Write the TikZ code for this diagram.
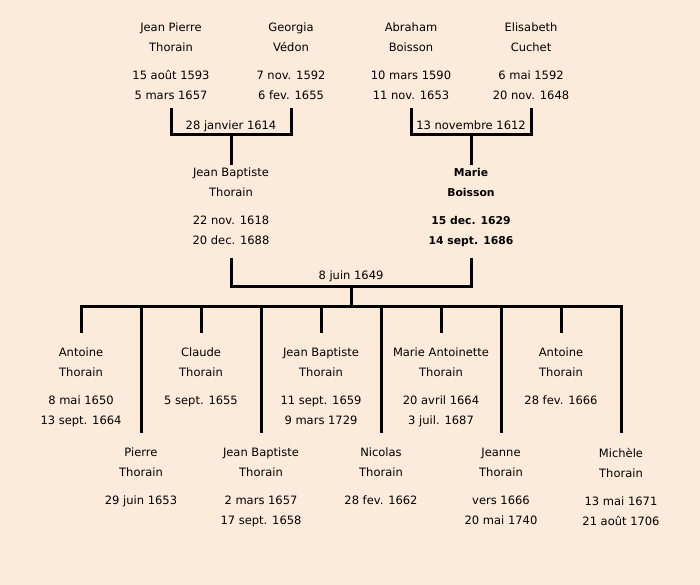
\documentclass[tikz,border=0pt]{standalone}
\usepackage{fontspec}
\setmainfont{DejaVu Sans}
\usetikzlibrary{calc,positioning}
\definecolor{parchment}{RGB}{252,235,218}
\tikzset{
  person/.style={align=center, inner sep=0pt, anchor=north, font=\fontsize{11.5}{20}\selectfont},
  wedding/.style={inner sep=0pt, anchor=base, font=\fontsize{11.5}{14}\selectfont},
  tie/.style={line width=3pt}}

\begin{document}
\begin{tikzpicture}[x=1pt,y=-1pt]
\fill[parchment] (0,0) rectangle (700,585);
\node[person] (jp) at (171,23) {Jean Pierre\\Thorain\\[8pt]15 août 1593\\5 mars 1657};
\node[person] (gv) at (291,23) {Georgia\\Védon\\[8pt]7 nov. 1592\\6 fev. 1655};
\node[person] (ab) at (411,23) {Abraham\\Boisson\\[8pt]10 mars 1590\\11 nov. 1653};
\node[person] (ec) at (531,23) {Elisabeth\\Cuchet\\[8pt]6 mai 1592\\20 nov. 1648};
\node[person] (jb) at (231,168) {Jean Baptiste\\Thorain\\[8pt]22 nov. 1618\\20 dec. 1688};
\node[person, font=\fontsize{10.8}{20}\selectfont\bfseries] (mb) at (471,168.5) {Marie\\Boisson\\[8pt]15 dec. 1629\\14 sept. 1686};
\coordinate (jp1) at (jp |- 0,108);
\coordinate (gv1) at (gv |- 0,108);
\coordinate (ab1) at (ab |- 0,108);
\coordinate (ec1) at (ec |- 0,108);
\coordinate (jb1) at (jb |- 0,258);
\coordinate (mb1) at (mb |- 0,258);
\draw[tie] (jp1) -- ++(0,27) -| (gv1);
\draw[tie] (ab1) -- ++(0,27) -| (ec1);
\draw[tie] (jb |- 0,135) -- ($(jb.north)+(0,-3)$);
\draw[tie] (mb |- 0,135) -- (mb |- 0,165);
\node[wedding] (w1) at (231,130) {28 janvier 1614};
\node[wedding] (w2) at (471,130) {13 novembre 1612};
\draw[tie] (jb1) -- ++(0,28) -| (mb1);
\node[wedding] (w3) at (351,279) {8 juin 1649};
\coordinate (bar) at (351,306);
\draw[tie] (351,286) -- (bar);
\foreach \k/\x/\y/\txt in {
  k1/81/348/{Antoine\\Thorain\\[8pt]8 mai 1650\\13 sept. 1664},
  k2/141/448/{Pierre\\Thorain\\[8pt]29 juin 1653},
  k3/201/348/{Claude\\Thorain\\[8pt]5 sept. 1655},
  k4/261/448/{Jean Baptiste\\Thorain\\[8pt]2 mars 1657\\17 sept. 1658},
  k5/321/348/{Jean Baptiste\\Thorain\\[8pt]11 sept. 1659\\9 mars 1729},
  k6/381/448/{Nicolas\\Thorain\\[8pt]28 fev. 1662},
  k7/441/348/{Marie Antoinette\\Thorain\\[8pt]20 avril 1664\\3 juil. 1687},
  k8/501/448/{Jeanne\\Thorain\\[8pt]vers 1666\\20 mai 1740},
  k9/561/348/{Antoine\\Thorain\\[8pt]28 fev. 1666},
  k10/621/448/{Michèle\\Thorain\\[8pt]13 mai 1671\\21 août 1706}}
{
  \node[person] (\k) at (\x,\y) {\txt};
  \draw[tie] (\k |- bar) -- ($(\k.north)+(0,-15)$);
}
\draw[tie, line cap=rect] (k1 |- bar) -- (k10 |- bar);
\end{tikzpicture}
\end{document}
